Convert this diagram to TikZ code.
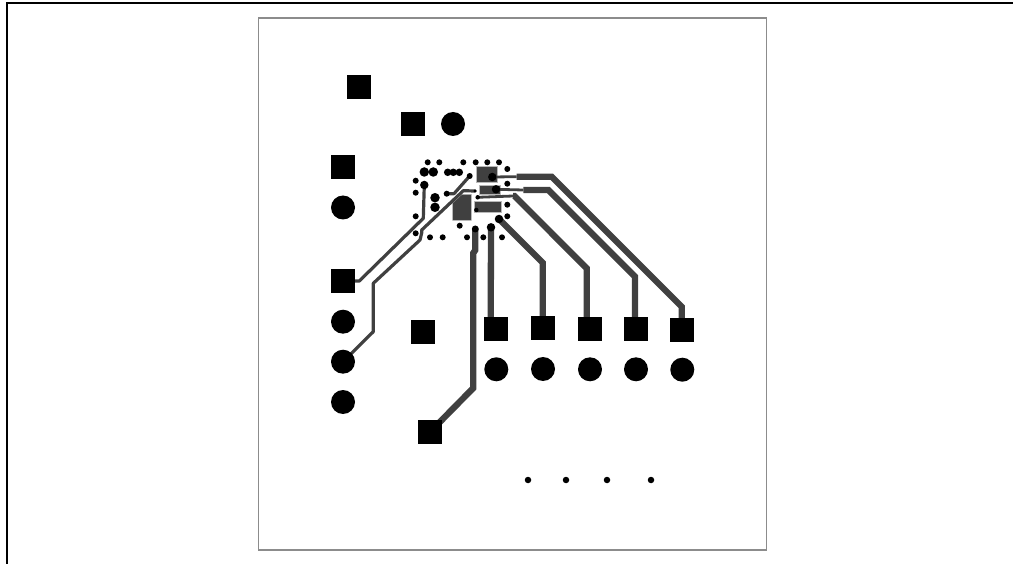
\documentclass[tikz,border=0pt]{standalone}
\pgfdeclarelayer{copper}
\pgfsetlayers{copper,main}
\tikzset{
  squarepad/.style={rectangle,fill=black,minimum size=24pt,inner sep=0pt,outer sep=0pt},
  roundpad/.style={circle,fill=black,minimum size=24pt,inner sep=0pt,outer sep=0pt},
  viahole/.style={circle,fill=black,minimum size=#1,inner sep=0pt,outer sep=0pt},
  viahole/.default=6pt,
  copperfill/.style={fill=copperc,draw=copperedge,line width=0.5pt},
  wide/.style={draw=copperc,line width=6.3pt,line join=miter},
  mid/.style={draw=copperc,line width=3.2pt,line join=round},
  fine/.style={draw=copperc,line width=2.8pt,line join=round},
  boardedge/.style={draw=edgec,line width=1.7pt},
  pageframe/.style={draw=black,line width=2.4pt}
}
\definecolor{copperc}{HTML}{404040}
\definecolor{copperedge}{HTML}{B8B8B8}
\definecolor{edgec}{HTML}{8C8C8C}
\begin{document}
\begin{tikzpicture}[x=1pt,y=-1pt]
\useasboundingbox (0,0) rectangle (1013,564);
% frames
\draw[pageframe] (7,564) -- (7,2.9) -- (1013,2.9);
\draw[boardedge] (258.5,17.7) rectangle (766.5,549.7);
% square pads
\node[squarepad] (s1) at (359,87) {};
\node[squarepad] (s2) at (413,124) {};
\node[squarepad] (s3) at (343,167) {};
\node[squarepad] (s4) at (343,281) {};
\node[squarepad] (s5) at (422.7,332.3) {};
\node[squarepad] (s6) at (430.3,431.7) {};
\node[squarepad] (p1) at (496.3,329) {};
\node[squarepad] (p2) at (543,328.3) {};
\node[squarepad] (p3) at (590,329) {};
\node[squarepad] (p4) at (636,329.2) {};
\node[squarepad] (p5) at (682.3,330) {};
% round pads
\node[roundpad] (r1) at (453,124) {};
\node[roundpad] (r2) at (343,207.5) {};
\node[roundpad] (r3) at (343,321.7) {};
\node[roundpad] (r4) at (343,361.7) {};
\node[roundpad] (r5) at (343,402) {};
\node[roundpad] (q1) at (496.3,369.3) {};
\node[roundpad] (q2) at (543,369) {};
\node[roundpad] (q3) at (590,369.3) {};
\node[roundpad] (q4) at (636,369.3) {};
\node[roundpad] (q5) at (682.3,369.7) {};
% bottom dots
\node[viahole=6.5pt] (d1) at (528,480) {};
\node[viahole=6.5pt] (d2) at (566,480) {};
\node[viahole=6.5pt] (d3) at (607,480) {};
\node[viahole=6.5pt] (d4) at (651,480) {};
% ring of small vias
\foreach \n/\x/\y in {a/427.7/162.3,b/439.3/162.3,c/463.3/162.3,d/475.7/162.3,e/487.3/162.3,f/499/162.3,
  g/507.3/169,h/507.3/183.7,i/507.3/204.7,j/507.3/216.3,k/415.7/180.7,l/415.7/192.7,m/415.7/216.3,
  n/415.7/233.3,o/430/237.3,p/442.7/237.3,q/467/237.3,r/483.3/237.3,s/502/237.3,t/459.7/225.7}
  \node[viahole] (v\n) at (\x,\y) {};
% larger vias
\node[viahole=9.5pt] (w1) at (424.3,172) {};
\node[viahole=9.5pt] (w2) at (433.3,172) {};
\node[viahole=7.5pt] (w3) at (447.7,172.3) {};
\node[viahole=7.5pt] (w4) at (453.3,172.3) {};
\node[viahole=7.5pt] (w5) at (459.3,172.3) {};
\node[viahole=9.5pt] (w6) at (435,197.7) {};
\node[viahole=9.5pt] (w7) at (435,207.3) {};
\node[viahole=8.5pt] (w8) at (424.3,185) {};
\node[viahole=6pt] (w9) at (469.7,176) {};
\node[viahole=6pt] (w10) at (446.7,193.7) {};
\node[viahole=8.5pt] (w11) at (492.3,177) {};
\node[viahole=8.5pt] (w12) at (496,189.3) {};
\node[viahole=4.5pt] (w13) at (477.7,197.3) {};
\node[viahole=4.5pt] (w14) at (476.3,210) {};
\node[viahole=3.5pt] (w15) at (475,191) {};
\node[viahole=8.5pt] (w16) at (499,219) {};
\node[viahole=7pt] (w17) at (475.3,229) {};
\node[viahole=8.5pt] (w18) at (491,227.3) {};
\begin{pgfonlayer}{copper}
  % copper areas
  \path[copperfill] (476.3,166.7) rectangle (497,182.3);
  \path[copperfill] (479.3,185.7) rectangle (500.7,194);
  \path[copperfill] (474,201.7) rectangle (501,212.7);
  \path[copperfill] (452.7,202.7) -- (462,194.3) -- (471.3,194.3) -- (471.3,220.3) -- (452.7,220.3) -- cycle;
  % right-hand traces
  \draw[fine] (w11.center) -- (516.7,176.7);
  \draw[wide] (516.7,176.7) -- (551.7,176.7) -- (681.7,306.7) -- (681.7,330);
  \draw[fine] (w12.center) -- (523.3,190);
  \draw[wide] (523.3,190) -- (548.3,190) -- (635,276.7) -- (635,329);
  \draw[fine] (w13.center) -- (513,196);
  \draw[wide] (513,196) -- (514.5,196) -- (586.7,268.3) -- (586.7,329);
  \draw[wide] (w16.center) -- (542.7,262.7) -- (542.7,328);
  \draw[wide] (w18.center) -- (490.7,329);
  % lower trace
  \draw[wide] (w17.center) -- (475.3,250) -- (473.3,253) -- (473.3,388) -- (s6.center);
  % left thin traces
  \draw[mid] (s4.center) -- (359.3,281) -- (423.3,218.3) -- (w8.center);
  \draw[mid] (r4.center) -- (373.3,331.7) -- (373.3,283.3) -- (420,240) -- (421.7,233) -- (421.7,230) -- (463.3,190.7) -- (w15.center);
  \draw[mid] (w10.center) -- (454,193.7) -- (w9.center);
\end{pgfonlayer}
\end{tikzpicture}
\end{document}
